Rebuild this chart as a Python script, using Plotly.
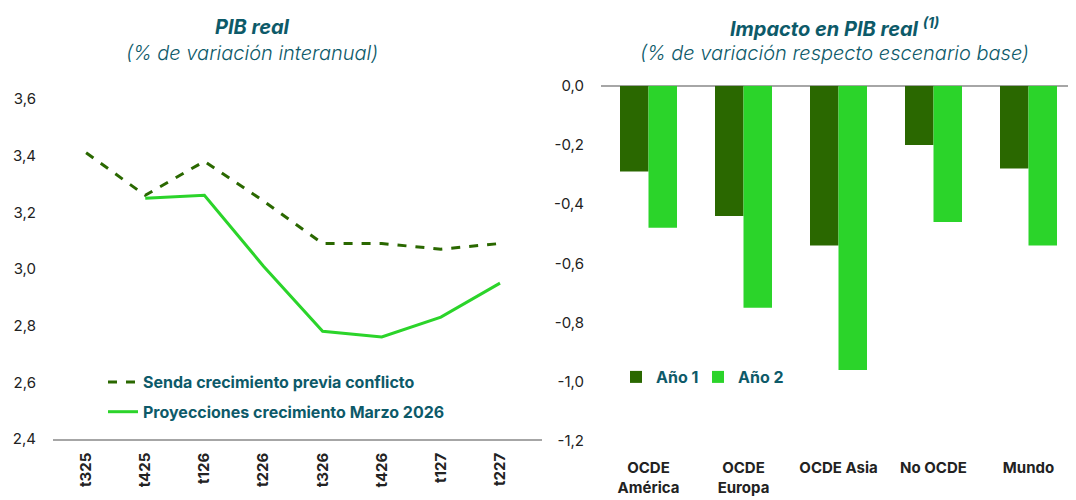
import plotly.graph_objects as go

# Left chart data
quarters = ["t325", "t425", "t126", "t226", "t326", "t426", "t127", "t227"]
senda_previa = [3.41, 3.26, 3.38, 3.24, 3.09, 3.09, 3.07, 3.09]
proyecciones = [None, 3.25, 3.26, 3.01, 2.78, 2.76, 2.83, 2.95]
left_yticks = [2.4, 2.6, 2.8, 3.0, 3.2, 3.4, 3.6]
left_yticklabels = ["2,4", "2,6", "2,8", "3,0", "3,2", "3,4", "3,6"]

# Right chart data
regions = ["OCDE<br>América", "OCDE<br>Europa", "OCDE Asia", "No OCDE", "Mundo"]
ano1 = [-0.29, -0.44, -0.54, -0.20, -0.28]
ano2 = [-0.48, -0.75, -0.96, -0.46, -0.54]
right_yticks = [-1.2, -1.0, -0.8, -0.6, -0.4, -0.2, 0.0]
right_yticklabels = ["-1,2", "-1,0", "-0,8", "-0,6", "-0,4", "-0,2", "0,0"]

DARK = "#2a6800"
LIGHT = "#2bd42a"
TEAL = "#0d5a69"
TICK = "#222222"
FONT = "Inter"

fig = go.Figure()

fig.add_trace(go.Scatter(
    x=quarters, y=senda_previa, mode="lines", name="Senda crecimiento previa conflicto",
    line=dict(color=DARK, width=3, dash="dash"), xaxis="x", yaxis="y",
    legend="legend", legendgroup="a",
))
fig.add_trace(go.Scatter(
    x=quarters, y=proyecciones, mode="lines", name="Proyecciones crecimiento Marzo 2026",
    line=dict(color=LIGHT, width=3), xaxis="x", yaxis="y",
    legend="legend", legendgroup="b",
))

fig.add_trace(go.Bar(
    x=regions, y=ano1, name="Año 1", marker=dict(color=DARK, line=dict(width=0)),
    xaxis="x2", yaxis="y2", legend="legend2",
))
fig.add_trace(go.Bar(
    x=regions, y=ano2, name="Año 2", marker=dict(color=LIGHT, line=dict(width=0)),
    xaxis="x2", yaxis="y2", legend="legend3",
))

W, H = 1076, 500
OFF = 8  # page offset of the figure inside the browser window


def px(x):
    return (x - OFF) / W


def py(y):
    return 1 - (y - OFF) / H


bar_legend_style = dict(
    xanchor="left", yanchor="middle", orientation="h",
    bgcolor="rgba(0,0,0,0)", itemwidth=30,
    font=dict(family=FONT, size=16, color=TEAL, weight="bold"),
)

fig.update_layout(
    width=W, height=H,
    margin=dict(l=0, r=0, t=0, b=0, autoexpand=False),
    paper_bgcolor="white", plot_bgcolor="white",
    font=dict(family=FONT, color=TICK, size=15),
    barmode="group", bargap=0.4, bargroupgap=0,
    showlegend=True,
    xaxis=dict(
        domain=[px(53), px(542)], type="category", range=[-0.56, 7.71],
        showline=True, linecolor="#a6a6a6", linewidth=1.5, ticks="",
        tickangle=-90, showgrid=False, zeroline=False, automargin=False,
        tickfont=dict(family=FONT, size=15, color=TICK, weight="bold"),
        ticklabelstandoff=6, anchor="y",
    ),
    yaxis=dict(
        domain=[py(439), py(99)], range=[2.4, 3.6],
        tickvals=left_yticks, ticktext=left_yticklabels,
        showgrid=False, zeroline=False, showline=False, ticks="", automargin=False,
        tickfont=dict(family=FONT, size=15, color=TICK),
        ticklabelstandoff=16, anchor="x",
    ),
    xaxis2=dict(
        domain=[px(601), px(1076)], type="category",
        showline=False, ticks="", showgrid=False, zeroline=False, automargin=False,
        tickfont=dict(family=FONT, size=15, color=TICK, weight="bold"),
        anchor="y2", ticklabelstandoff=16,
    ),
    yaxis2=dict(
        domain=[py(441), py(85.7)], range=[-1.2, 0.0],
        tickvals=right_yticks, ticktext=right_yticklabels,
        showgrid=False, showline=False, ticks="", automargin=False,
        zeroline=True, zerolinecolor="#a6a6a6", zerolinewidth=1.5,
        tickfont=dict(family=FONT, size=15, color=TICK),
        ticklabelstandoff=16, anchor="x2",
    ),
    legend=dict(
        x=px(103), y=py(365), xanchor="left", yanchor="top",
        orientation="v", bgcolor="rgba(0,0,0,0)", itemwidth=30,
        font=dict(family=FONT, size=16, color=TEAL, weight="bold"),
        traceorder="grouped", tracegroupgap=6,
    ),
    legend2=dict(x=px(616), y=py(377), **bar_legend_style),
    legend3=dict(x=px(698), y=py(377), **bar_legend_style),
    annotations=[
        dict(text="<b><i>PIB real</i></b>", x=px(252), y=py(27), xref="paper", yref="paper",
             showarrow=False, font=dict(family=FONT, size=20, color=TEAL), xanchor="center", yanchor="middle"),
        dict(text="<i>(% de variación interanual)</i>", x=px(252), y=py(53), xref="paper", yref="paper",
             showarrow=False, font=dict(family=FONT, size=20, color=TEAL, weight=300), xanchor="center", yanchor="middle"),
        dict(text="<b><i>Impacto en PIB real <sup>(1)</sup></i></b>", x=px(834), y=py(27), xref="paper", yref="paper",
             showarrow=False, font=dict(family=FONT, size=20, color=TEAL), xanchor="center", yanchor="middle"),
        dict(text="<i>(% de variación respecto escenario base)</i>", x=px(834), y=py(53), xref="paper", yref="paper",
             showarrow=False, font=dict(family=FONT, size=20, color=TEAL, weight=300), xanchor="center", yanchor="middle"),
    ],
)

fig.write_html("out.html")
